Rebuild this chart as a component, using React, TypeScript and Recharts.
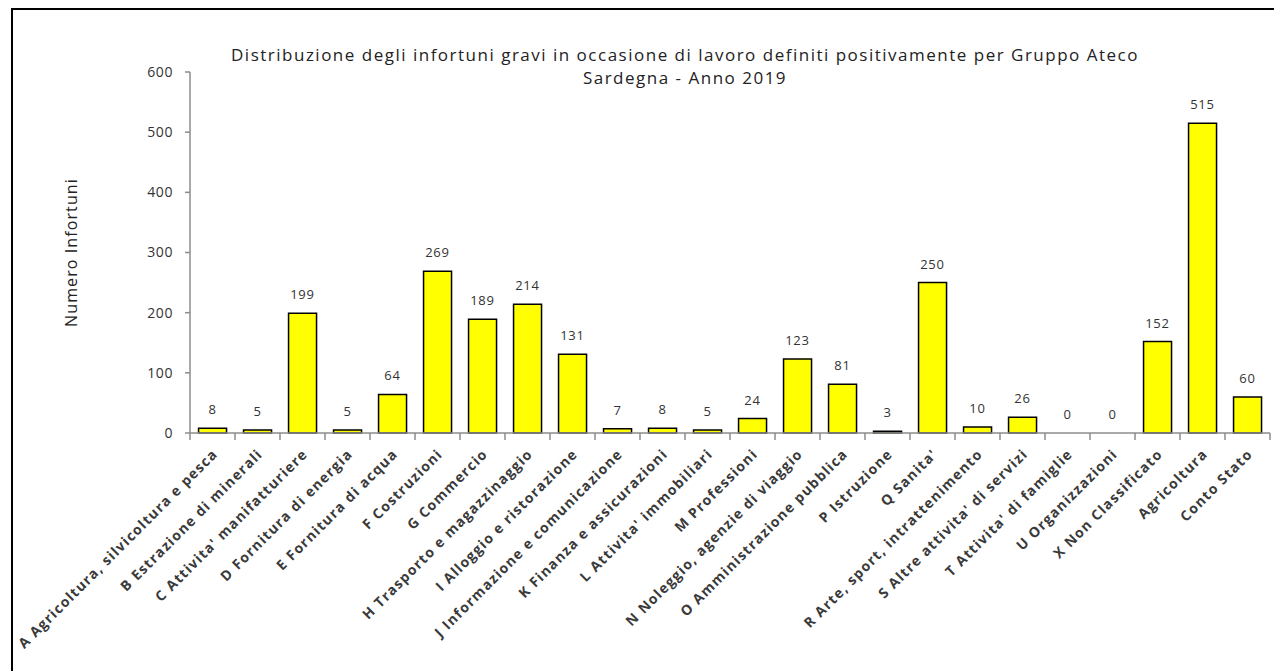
import React from 'react'
import { ComposedChart, Bar, Line, XAxis, YAxis, LabelList } from 'recharts'

const categories = [
  'A Agricoltura, silvicoltura e pesca',
  'B Estrazione di minerali',
  "C Attivita' manifatturiere",
  'D Fornitura di energia',
  'E Fornitura di acqua',
  'F Costruzioni',
  'G Commercio',
  'H Trasporto e magazzinaggio',
  'I Alloggio e ristorazione',
  'J Informazione e comunicazione',
  'K Finanza e assicurazioni',
  "L Attivita' immobiliari",
  'M Professioni',
  'N Noleggio, agenzie di viaggio',
  'O Amministrazione pubblica',
  'P Istruzione',
  "Q Sanita'",
  'R Arte, sport, intrattenimento',
  "S Altre attivita' di servizi",
  "T Attivita' di famiglie",
  'U Organizzazioni',
  'X Non Classificato',
  'Agricoltura',
  'Conto Stato',
]

const infortuni = [8, 5, 199, 5, 64, 269, 189, 214, 131, 7, 8, 5, 24, 123, 81, 3, 250, 10, 26, 0, 0, 152, 515, 60]

const yTicks = [0, 100, 200, 300, 400, 500, 600]

const data = categories.map((name, i) => ({ name, value: infortuni[i] }))

const FONT = '"Open Sans", "Liberation Sans", sans-serif'
const CHART_W = 1268
const CHART_H = 660
const M_LEFT = 177
const M_RIGHT = 11
const plotW = CHART_W - M_LEFT - M_RIGHT
const step = plotW / categories.length

function CategoryTick(props: any) {
  const { x, y, payload, index } = props
  const left = x - step / 2
  const right = x + step / 2
  return (
    <g>
      <line x1={left} y1={y - 8} x2={left} y2={y - 1} stroke="#8c8c8c" strokeWidth={1.5} />
      {index === categories.length - 1 && (
        <line x1={right} y1={y - 8} x2={right} y2={y - 1} stroke="#8c8c8c" strokeWidth={1.5} />
      )}
      <text
        x={x + 6}
        y={y + 14}
        transform={`rotate(-45, ${x + 6}, ${y + 14})`}
        textAnchor="end"
        fontFamily={FONT}
        fontSize={14}
        fontWeight="bold"
        letterSpacing={1.2}
        fill="#3a3a3a"
      >
        {payload.value}
      </text>
    </g>
  )
}

function ValueLabel(props: any) {
  const { x, y, value } = props
  return (
    <text
      x={Number(x)}
      y={Number(y) - 14}
      textAnchor="middle"
      fontFamily={FONT}
      fontSize={13}
      letterSpacing={0.8}
      fill="#333"
    >
      {value}
    </text>
  )
}

export default function App() {
  return (
    <div
      style={{
        marginLeft: 3,
        width: 1271,
        height: 663,
        boxSizing: 'border-box',
        borderTop: '2px solid #000',
        borderLeft: '2px solid #000',
        overflow: 'hidden',
        position: 'relative',
        background: '#fff',
      }}
    >
      <ComposedChart
        width={CHART_W}
        height={CHART_H}
        data={data}
        margin={{ top: 62, right: M_RIGHT, left: 0, bottom: 0 }}
        barCategoryGap="19%"
      >
        <text x={672} y={51} textAnchor="middle" fontFamily={FONT} fontSize={17} letterSpacing={1.5} fill="#222">
          Distribuzione degli infortuni gravi in occasione di lavoro definiti positivamente per Gruppo Ateco
        </text>
        <text x={672} y={74} textAnchor="middle" fontFamily={FONT} fontSize={17} letterSpacing={1.5} fill="#222">
          Sardegna - Anno 2019
        </text>
        <XAxis
          dataKey="name"
          interval={0}
          height={237}
          tick={<CategoryTick />}
          tickLine={false}
          axisLine={{ stroke: '#8c8c8c', strokeWidth: 1.5 }}
        />
        <YAxis
          domain={[0, 600]}
          ticks={yTicks}
          width={M_LEFT}
          interval={0}
          tickSize={5}
          tickLine={{ stroke: '#8c8c8c', strokeWidth: 1.5 }}
          axisLine={{ stroke: '#8c8c8c', strokeWidth: 1.5 }}
          tick={{ fontFamily: FONT, fontSize: 14, fill: '#333', letterSpacing: 0.6 }}
          tickMargin={12}
          label={{
            value: 'Numero Infortuni',
            angle: -90,
            position: 'insideLeft',
            offset: 58,
            style: { fontFamily: FONT, fontSize: 16, fill: '#222', textAnchor: 'middle', letterSpacing: 1.1 },
          }}
        />
        <Bar dataKey="value" fill="#ffff00" stroke="#000" strokeWidth={1.5} isAnimationActive={false} />
        <Line
          dataKey="value"
          stroke="none"
          dot={false}
          activeDot={false}
          isAnimationActive={false}
          legendType="none"
        >
          <LabelList dataKey="value" content={<ValueLabel />} />
        </Line>
      </ComposedChart>
    </div>
  )
}
